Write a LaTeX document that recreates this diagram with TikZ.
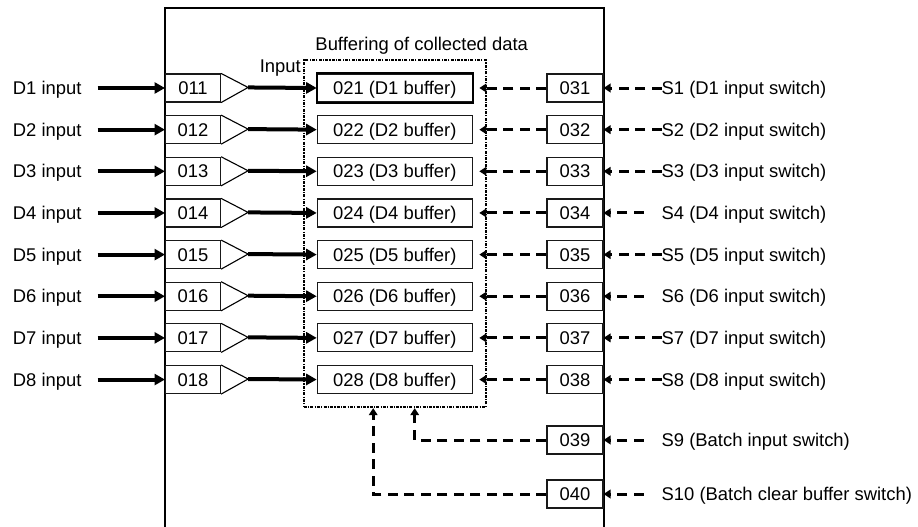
\documentclass[tikz,border=0pt]{standalone}
\usepackage{fontspec}
\setmainfont{Liberation Sans}
\usetikzlibrary{arrows.meta, positioning, fit, calc}

\begin{document}
\begin{tikzpicture}[
        x=1pt, y=-1pt,
        % Styles
        txt/.style={inner sep=0pt, text height=13.2pt, text depth=0pt,
            font=\fontsize{18.4}{22}\selectfont},
        regbox/.style={
            txt, rectangle, draw=black!90, line width=1.1pt,
            fill=white, minimum height=28pt, minimum width=55pt
        },
        bufbox/.style={regbox, minimum width=155pt},
        swbox/.style={regbox, minimum width=56pt},
        selbox/.style={draw=black, line width=2pt},
        amp/.style={draw=black, line width=1.1pt, fill=white},
        unit/.style={draw=black, line width=2pt},
        frame/.style={
            draw=black, line width=2pt,
            dash pattern=on 3pt off 1.2pt on 1.2pt off 1.2pt
        },
        data/.style={-{Triangle[length=10.5pt, width=11pt]}, line width=4pt},
        ctl/.style={
            -{Triangle[length=7pt, width=8.5pt]}, line width=3pt,
            dash pattern=on 10pt off 6.5pt
        }
    ]
        \useasboundingbox (0,0) rectangle (918,527);

        % Unit outline
        \coordinate (ml) at (165,527);
        \coordinate (mr) at (603.5,527);
        \coordinate (mtop) at (0,8);
        \draw[unit] (ml) |- (mr |- mtop) -- (mr);

        % Channels
        \foreach \i [evaluate=\i as \y using 88+41.65*(\i-1)] in {1,...,8} {
            \node[regbox, anchor=west] (rx\i) at (165,\y) {01\i};
            \draw[amp] (rx\i.north east) -- ++(27,14) coordinate (tip\i)
                -- (rx\i.south east);
            \node[bufbox, anchor=west] (buf\i) at (316.7,\y) {02\i\ (D\i\ buffer)};
            \node[swbox, anchor=east] (sw\i) at (603.5,\y) {03\i};
            \node[txt, anchor=west] (din\i) at (12.7,\y) {D\i\ input};
            \node[txt, anchor=west] (sin\i) at (661.5,\y) {S\i\ (D\i\ input switch)};
        }
        \draw[selbox] (buf1.north west) rectangle (buf1.south east);

        % Batch switches
        \node[swbox, anchor=east] (sw9) at (603.5,440) {039};
        \node[swbox, anchor=east] (sw10) at (603.5,494) {040};
        \node[txt, anchor=west] (sin9) at (661.5,440) {S9 (Batch input switch)};
        \node[txt, anchor=west] (sin10) at (661.5,494) {S10 (Batch clear buffer switch)};

        % Buffer group
        \node[frame, fit=(buf1)(buf8), inner sep=13pt] (frame) {};
        \node[txt, anchor=south] (title) at (421.7,51) {Buffering of collected data};
        \node[txt, anchor=south east] (inlbl) at (301,73) {Input};
        \path (frame.south west) ++(112,0) coordinate (bin) ++(-41.5,0) coordinate (bclr);

        % Connections
        \foreach \i/\gap in {1/0pt, 2/0pt, 3/0pt, 4/18pt, 5/0pt, 6/18pt, 7/0pt, 8/0pt, 9/18pt, 10/18pt} {
            \draw[ctl, shorten <=\gap] (sin\i.west) -- (sw\i.east);
        }
        \foreach \i in {1,...,8} {
            \draw[data] ([xshift=16pt]din\i.east) -- (rx\i.west);
            \draw[data] (tip\i) -- (buf\i.west);
            \draw[ctl] (sw\i.west) -- ([xshift=6.5pt]buf\i.east);
        }
        \draw[ctl] (sw9.west) -| (bin);
        \draw[ctl] (sw10.west) -| (bclr);

\end{tikzpicture}
\end{document}
